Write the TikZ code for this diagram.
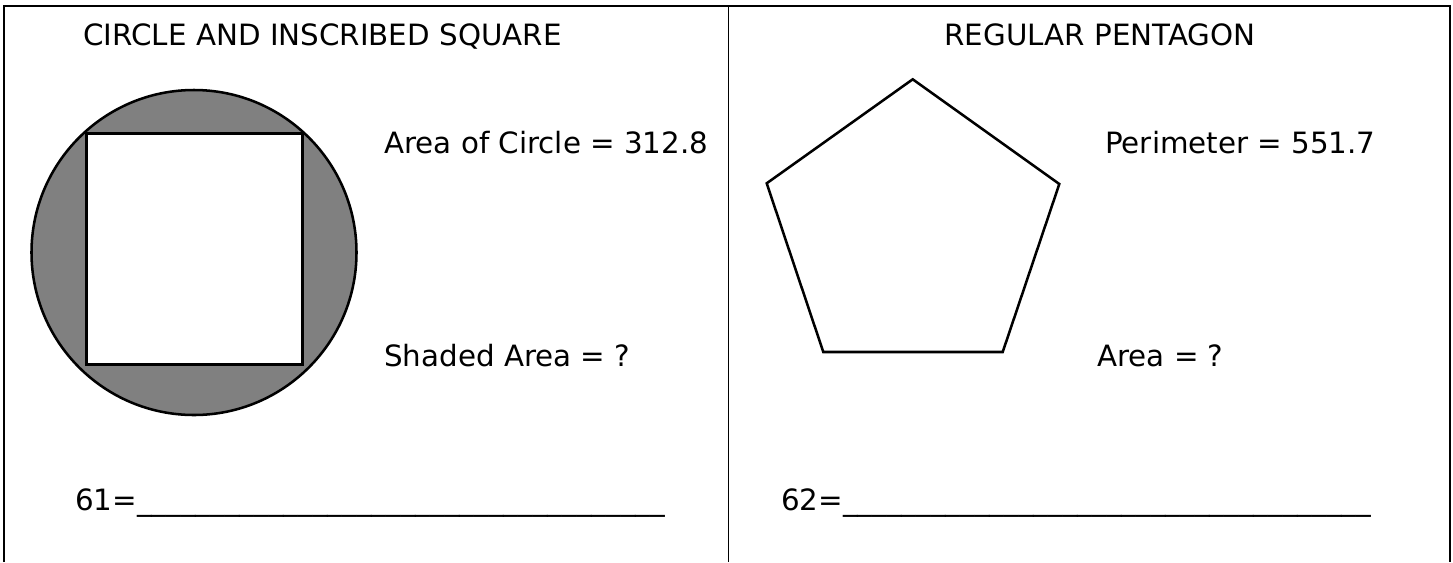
\documentclass[tikz,border=0pt]{standalone}
\usepackage{fontspec}
\setmainfont{DejaVu Sans}
\begin{document}
\begin{tikzpicture}[x=0.75pt,y=-0.75pt,
  framestyle/.style={draw=black,line width=0.9pt},
  figline/.style={draw=black,line width=1.9pt},
  lbl/.style={inner sep=0pt,anchor=base west,font=\fontsize{22}{26}\selectfont},
  ttl/.style={inner sep=0pt,anchor=base,font=\fontsize{22}{26}\selectfont}]
\useasboundingbox (0,0) rectangle (1453,562);
% frame
\draw[framestyle] (4,562) -- (4,6) -- (1450,6) -- (1450,562);
\draw[framestyle] (728.5,6) -- (728.5,562);
% titles
\node[ttl] (t1) at (322.5,45) {CIRCLE AND INSCRIBED SQUARE};
\node[ttl] (t2) at (1100,45) {REGULAR PENTAGON};
% circle and square
\draw[figline,fill=black!50] (194,252.5) circle[radius=162.5];
\draw[figline,fill=white] (86.5,133.5) rectangle (302.5,364.5);
% pentagon
\draw[figline,line join=miter] (912.7,79.3) -- (1059.3,184) -- (1002.7,352) -- (823.3,352) -- (766.7,183.3) -- cycle;
% labels
\node[lbl] (a1) at (384,153.3) {Area of Circle = 312.8};
\node[lbl] (a2) at (384,366.7) {Shaded Area = ?};
\node[lbl] (b1) at (1105,153.3) {Perimeter = 551.7};
\node[lbl] (b2) at (1097,366.7) {Area = ?};
\node[lbl] (q1) at (75,510) {61=\_\_\_\_\_\_\_\_\_\_\_\_\_\_\_\_\_\_\_\_\_\_\_\_\_\_\_\_\_\_\_\_\_\_\_\_};
\node[lbl] (q2) at (781,510) {62=\_\_\_\_\_\_\_\_\_\_\_\_\_\_\_\_\_\_\_\_\_\_\_\_\_\_\_\_\_\_\_\_\_\_\_\_};
\end{tikzpicture}
\end{document}
